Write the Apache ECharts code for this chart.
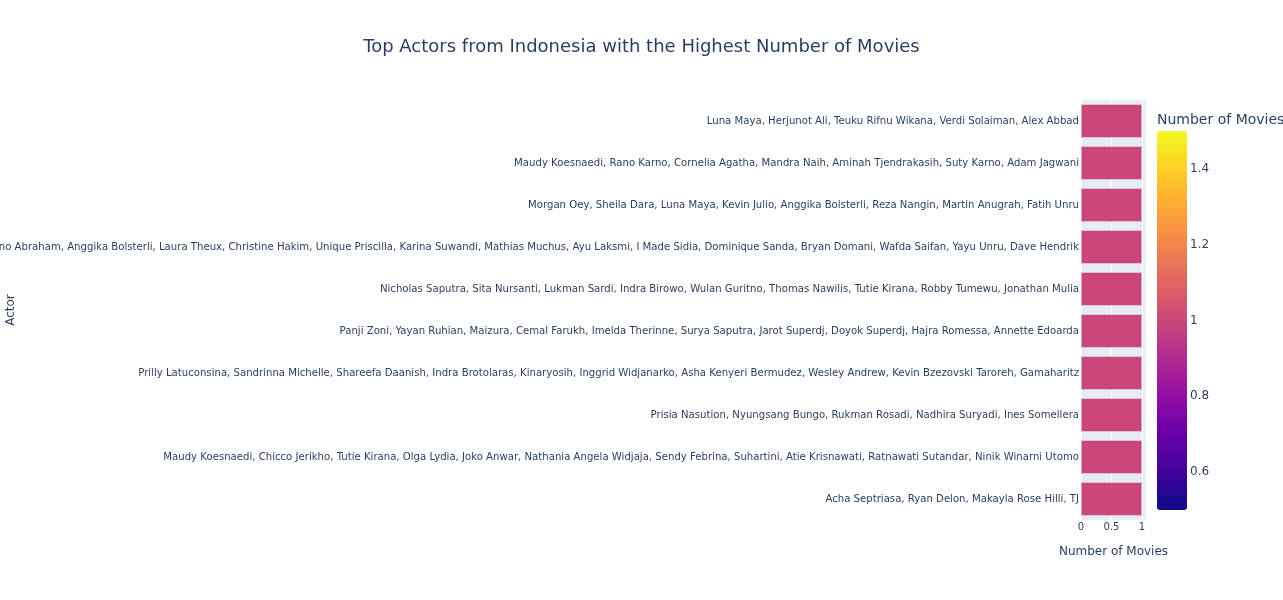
<!DOCTYPE html>
<html>
<head>
<meta charset="utf-8">
<script src="https://cdn.jsdelivr.net/npm/echarts@6/dist/echarts.min.js"></script>
<style>html,body{margin:0;padding:0;background:#fff;}#chart{width:1283px;height:600px;}</style>
</head>
<body>
<div id="chart"></div>
<script>
var actors = [
  "Luna Maya, Herjunot Ali, Teuku Rifnu Wikana, Verdi Solaiman, Alex Abbad",
  "Maudy Koesnaedi, Rano Karno, Cornelia Agatha, Mandra Naih, Aminah Tjendrakasih, Suty Karno, Adam Jagwani",
  "Morgan Oey, Sheila Dara, Luna Maya, Kevin Julio, Anggika Bolsterli, Reza Nangin, Martin Anugrah, Fatih Unru",
  "Reino Abraham, Anggika Bolsterli, Laura Theux, Christine Hakim, Unique Priscilla, Karina Suwandi, Mathias Muchus, Ayu Laksmi, I Made Sidia, Dominique Sanda, Bryan Domani, Wafda Saifan, Yayu Unru, Dave Hendrik",
  "Nicholas Saputra, Sita Nursanti, Lukman Sardi, Indra Birowo, Wulan Guritno, Thomas Nawilis, Tutie Kirana, Robby Tumewu, Jonathan Mulia",
  "Panji Zoni, Yayan Ruhian, Maizura, Cemal Farukh, Imelda Therinne, Surya Saputra, Jarot Superdj, Doyok Superdj, Hajra Romessa, Annette Edoarda",
  "Prilly Latuconsina, Sandrinna Michelle, Shareefa Daanish, Indra Brotolaras, Kinaryosih, Inggrid Widjanarko, Asha Kenyeri Bermudez, Wesley Andrew, Kevin Bzezovski Taroreh, Gamaharitz",
  "Prisia Nasution, Nyungsang Bungo, Rukman Rosadi, Nadhira Suryadi, Ines Somellera",
  "Maudy Koesnaedi, Chicco Jerikho, Tutie Kirana, Olga Lydia, Joko Anwar, Nathania Angela Widjaja, Sendy Febrina, Suhartini, Atie Krisnawati, Ratnawati Sutandar, Ninik Winarni Utomo",
  "Acha Septriasa, Ryan Delon, Makayla Rose Hilli, TJ"
];
var movieCounts = [1, 1, 1, 1, 1, 1, 1, 1, 1, 1];
var xTicks = [0, 0.5, 1];
var colorbarTicks = [0.6, 0.8, 1, 1.2, 1.4];
var plasma = ['#0d0887','#46039f','#7201a8','#9c179e','#bd3786','#d8576b','#ed7953','#fb9f3a','#fdca26','#f0f921'];

var textColor = '#2a3f5f';
var font = '"DejaVu Sans", Verdana, sans-serif';

var chart = echarts.init(document.getElementById('chart'), null, {renderer: 'canvas'});
chart.setOption({
  animation: false,
  backgroundColor: '#ffffff',
  textStyle: {fontFamily: font, color: textColor},
  title: [
    {text: 'Top Actors from Indonesia with the Highest Number of Movies', left: 'center', top: 33,
     textStyle: {fontFamily: font, fontSize: 18, fontWeight: 'normal', color: textColor}},
    {text: 'Number of Movies', left: 1157, top: 113, padding: 0,
     textStyle: {fontFamily: font, fontSize: 14, fontWeight: 'normal', color: textColor}}
  ],
  grid: [
    {left: 1081, right: 137, top: 100, bottom: 80, show: true, backgroundColor: '#E5ECF6', borderWidth: 0,
     containLabel: false, outerBoundsMode: 'none'},
    {left: 1157, width: 30, top: 131, height: 379, show: false, containLabel: false, outerBoundsMode: 'none'}
  ],
  visualMap: {
    type: 'continuous', min: 0.5, max: 1.5, seriesIndex: 0, dimension: 0,
    orient: 'vertical', left: 1157, top: 131, itemWidth: 30, itemHeight: 379,
    padding: 0, text: null, showLabel: false, calculable: false, realtime: false,
    handleSize: 0, indicatorSize: 0,
    inRange: {color: plasma},
    textStyle: {color: 'transparent'}
  },
  xAxis: [
    {type: 'value', gridIndex: 0, min: 0, max: 1.066, interval: 0.5,
     axisLine: {show: false}, axisTick: {show: false},
     splitLine: {show: true, lineStyle: {color: '#ffffff', width: 1}},
     axisLabel: {fontSize: 10, color: textColor, margin: 2, fontFamily: font,
       customValues: xTicks, formatter: function (v) { return String(v); }},
     name: 'Number of Movies', nameLocation: 'middle', nameGap: 26, nameMoveOverlap: false,
     nameTextStyle: {fontSize: 12, color: textColor, fontFamily: font}},
    {type: 'value', gridIndex: 1, show: false, min: 0, max: 1}
  ],
  yAxis: [
    {type: 'category', gridIndex: 0, data: actors, inverse: true,
     axisLine: {show: false}, axisTick: {show: false}, splitLine: {show: false},
     axisLabel: {fontSize: 10.15, color: textColor, margin: 2, interval: 0, fontFamily: font},
     name: 'Actor', nameLocation: 'middle', nameGap: 1064, nameRotate: 90, nameMoveOverlap: false,
     nameTextStyle: {fontSize: 12, color: textColor, fontFamily: font}},
    {type: 'value', gridIndex: 1, position: 'right', min: 0.5, max: 1.5,
     axisLine: {show: false}, axisTick: {show: false}, splitLine: {show: false},
     axisLabel: {show: true, customValues: colorbarTicks, fontSize: 12, color: textColor, margin: 3, fontFamily: font,
       formatter: function (v) { return String(Math.round(v * 10) / 10); }}}
  ],
  series: [
    {type: 'bar', xAxisIndex: 0, yAxisIndex: 0, data: movieCounts,
     barCategoryGap: '20%',
     itemStyle: {borderColor: '#E5ECF6', borderWidth: 0.5}}
  ]
});
</script>
</body>
</html>
